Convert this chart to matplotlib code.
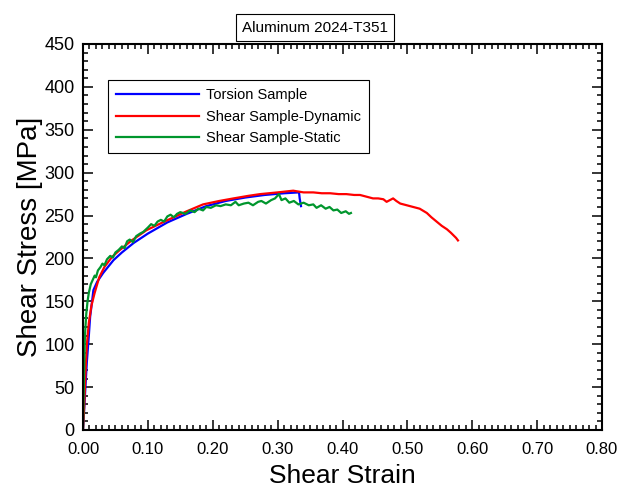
import numpy as np
import matplotlib.pyplot as plt
from matplotlib.ticker import MultipleLocator, FormatStrFormatter

plt.rcParams['font.family'] = ['Liberation Sans', 'DejaVu Sans']

# Datos
# Torsion Sample
torsion_x = [0.0, 0.003, 0.006, 0.009, 0.011, 0.014, 0.016, 0.022, 0.031, 0.047,
             0.060, 0.078, 0.100, 0.130, 0.160, 0.190, 0.220, 0.250, 0.280, 0.310,
             0.333, 0.334, 0.336]
torsion_y = [0, 40, 80, 110, 132, 150, 163, 173, 183, 198,
             207, 218, 229, 242, 252, 261, 267, 271, 274, 276,
             277, 270, 261]

# Shear Sample-Dynamic
dynamic_x = [0.0, 0.002, 0.004, 0.006, 0.009, 0.013, 0.018, 0.025, 0.033, 0.045,
             0.057, 0.075, 0.098, 0.120, 0.134, 0.160, 0.185, 0.210, 0.232, 0.255,
             0.273, 0.300, 0.324, 0.340, 0.355, 0.368, 0.381, 0.394, 0.406, 0.418,
             0.427, 0.437, 0.447, 0.455, 0.463, 0.468, 0.473, 0.478, 0.483, 0.489,
             0.499, 0.509, 0.519, 0.530, 0.537, 0.545, 0.553, 0.561, 0.567, 0.571,
             0.575, 0.578]
dynamic_y = [0, 30, 70, 100, 125, 145, 160, 178, 190, 202,
             210, 221, 233, 241, 246, 255, 263, 267, 270, 273,
             275, 277, 279, 277, 277, 276, 276, 275, 275, 274,
             274, 272, 270, 270, 269, 266, 268, 270, 267, 264,
             262, 260, 258, 253, 248, 243, 238, 234, 230, 227,
             224, 221]

# Shear Sample-Static
static_x = [0.0, 0.001, 0.002, 0.003, 0.005, 0.007, 0.009, 0.012, 0.015, 0.018,
            0.020, 0.023, 0.027, 0.030, 0.033, 0.037, 0.042, 0.046, 0.050, 0.055,
            0.060, 0.064, 0.068, 0.072, 0.077, 0.082, 0.088, 0.093, 0.100, 0.105,
            0.110, 0.115, 0.120, 0.125, 0.130, 0.135, 0.140, 0.145, 0.150, 0.158,
            0.165, 0.172, 0.178, 0.185, 0.190, 0.197, 0.205, 0.212, 0.220, 0.228,
            0.235, 0.240, 0.248, 0.255, 0.262, 0.270, 0.275, 0.282, 0.290, 0.296,
            0.302, 0.306, 0.312, 0.318, 0.325, 0.332, 0.340, 0.348, 0.355, 0.360,
            0.367, 0.374, 0.380, 0.386, 0.392, 0.398, 0.405, 0.410, 0.413]
static_y = [0, 40, 80, 110, 135, 150, 160, 170, 175, 180,
            178, 186, 190, 194, 192, 199, 203, 201, 207, 210,
            214, 212, 220, 222, 219, 226, 229, 231, 236, 240,
            238, 243, 245, 243, 249, 251, 248, 252, 254, 252,
            256, 254, 258, 256, 260, 259, 262, 261, 263, 262,
            266, 262, 264, 265, 262, 266, 267, 264, 268, 270,
            275, 268, 270, 265, 267, 263, 265, 262, 263, 259,
            262, 258, 260, 256, 257, 253, 255, 252, 253]

# Crear figura
fig = plt.figure(figsize=(6.24, 4.88), dpi=100, facecolor='white')
ax = fig.add_axes([83 / 624, 58 / 488, 519 / 624, 386 / 488])

ax.plot(torsion_x, torsion_y, color='#0000ff', linewidth=1.6, label='Torsion Sample')
ax.plot(dynamic_x, dynamic_y, color='#ff0000', linewidth=1.6, label='Shear Sample-Dynamic')
ax.plot(static_x, static_y, color='#00962d', linewidth=1.6, label='Shear Sample-Static')

ax.set_xlim(0, 0.8)
ax.set_ylim(0, 450)
ax.xaxis.set_major_locator(MultipleLocator(0.1))
ax.xaxis.set_minor_locator(MultipleLocator(0.01))
ax.yaxis.set_major_locator(MultipleLocator(50))
ax.yaxis.set_minor_locator(MultipleLocator(10))
ax.xaxis.set_major_formatter(FormatStrFormatter('%.2f'))

ax.tick_params(which='both', direction='in', top=True, right=True, width=1.1, color='black')
ax.tick_params(which='major', length=7)
ax.tick_params(which='minor', length=3.5)
ax.tick_params(axis='x', labelsize=12, pad=8.5)
ax.tick_params(axis='y', labelsize=13, pad=6)
for s in ax.spines.values():
    s.set_linewidth(1.5)

ax.set_xlabel('Shear Strain', fontsize=19, labelpad=5)
ax.set_ylabel('Shear Stress [MPa]', fontsize=20, labelpad=1)

# Leyenda
leg = ax.legend(loc='upper left', bbox_to_anchor=(108 / 624, 1 - 80 / 488),
                bbox_transform=fig.transFigure, borderaxespad=0,
                fontsize=10.5, handlelength=5.7, handletextpad=0.5,
                borderpad=0.55, labelspacing=0.52,
                fancybox=False, edgecolor='black', framealpha=1)
leg.get_frame().set_linewidth(0.8)

# Titulo en caja
fig.text(315 / 624, 1 - 27.5 / 488, 'Aluminum 2024-T351', ha='center', va='center',
         fontsize=11, bbox=dict(boxstyle='square,pad=0.4', facecolor='white',
                                edgecolor='black', linewidth=0.8))

fig.savefig('out.png', dpi=100)
